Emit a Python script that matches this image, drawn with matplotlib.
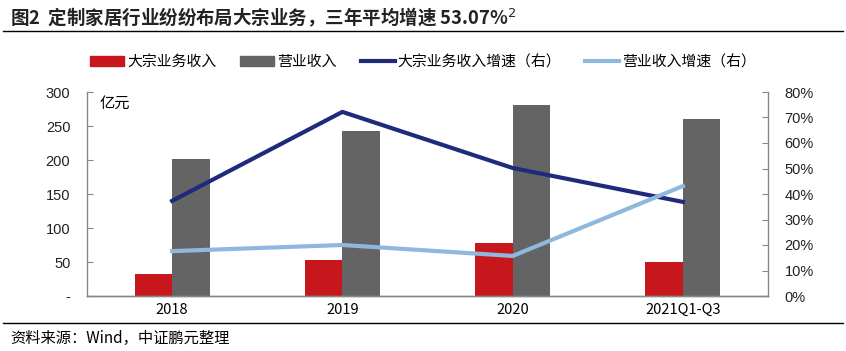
import matplotlib
matplotlib.use("Agg")
import matplotlib.pyplot as plt
import numpy as np
from matplotlib.lines import Line2D
from matplotlib.patches import Patch

plt.rcParams['font.family'] = ['Liberation Sans', 'Noto Sans CJK SC', 'DejaVu Sans']

categories = ["2018", "2019", "2020", "2021Q1-Q3"]
bulk_revenue = [32, 53, 78, 50]          # 亿元
total_revenue = [201, 243, 281, 260]     # 亿元
bulk_growth = [37.3, 72.2, 50.2, 36.9]   # %
total_growth = [17.6, 20.0, 15.7, 43.1]  # %

left_ticks = [0, 50, 100, 150, 200, 250, 300]
left_labels = ["-", "50", "100", "150", "200", "250", "300"]
right_ticks = [0, 10, 20, 30, 40, 50, 60, 70, 80]

red = "#C8161D"
gray = "#646464"
dblue = "#1F2A7C"
lblue = "#8FB8DE"

fig = plt.figure(figsize=(8.46, 3.51), dpi=100)
ax = fig.add_axes([87/846, 1-296/351, (768-87)/846, (296-92)/351])
ax2 = ax.twinx()

x = np.arange(len(categories))
w = 0.22
ax.bar(x - w/2, bulk_revenue, w, color=red, zorder=2)
ax.bar(x + w/2, total_revenue, w, color=gray, zorder=2)
ax.set_xlim(-0.5, len(categories) - 0.5)
ax.set_ylim(0, 300)
ax.set_yticks(left_ticks)
ax.set_yticklabels(left_labels)
ax.set_xticks(x)
ax.set_xticklabels(categories, family=['Noto Sans CJK SC'])

ax2.plot(x, bulk_growth, color=dblue, lw=3, zorder=3)
ax2.plot(x, total_growth, color=lblue, lw=3, zorder=3)
ax2.set_ylim(0, 80)
ax2.set_yticks(right_ticks)
ax2.set_yticklabels([f"{t}%" for t in right_ticks])

for a in (ax, ax2):
    a.spines['top'].set_visible(False)
    for s in ('left', 'right', 'bottom'):
        a.spines[s].set_color('#888888')
        a.spines[s].set_linewidth(1)
    a.tick_params(axis='y', direction='in', length=4, color='#888888',
                  labelsize=10.5, pad=12, labelcolor='#222222')
ax.tick_params(axis='x', length=0, labelsize=10.5, pad=5)
ax2.spines['left'].set_visible(False)
ax.spines['right'].set_visible(False)

ax.text(0.018, 0.985, "亿元", transform=ax.transAxes, family=['Noto Sans CJK SC'],
        fontsize=11, va='top', ha='left')

# legend
handles = [Patch(color=red), Patch(color=gray),
           Line2D([], [], color=dblue, lw=3), Line2D([], [], color=lblue, lw=3)]
labels = ["大宗业务收入", "营业收入", "大宗业务收入增速（右）", "营业收入增速（右）"]
fig.legend(handles, labels, loc='center', bbox_to_anchor=(0.5, 1-62/351), ncol=4,
           frameon=False, prop={'family': 'Noto Sans CJK SC', 'size': 10.7},
           handlelength=2.3, handleheight=0.6, columnspacing=1.6, handletextpad=0.2)

# title
fig.text(10/846, 1-17/351, "图2  定制家居行业纷纷布局大宗业务，三年平均增速 53.07%$^{2}$",
         family=['Noto Sans CJK SC'], fontweight='bold', fontsize=13.3,
         va='center', ha='left', color='#222222')
fig.add_artist(Line2D([3/846, 843/846], [1-31/351, 1-31/351], color='black', lw=1))
fig.add_artist(Line2D([3/846, 843/846], [1-323/351, 1-323/351], color='black', lw=1))
fig.text(10/846, 1-338/351, "资料来源：Wind，中证鹏元整理", family=['Noto Sans CJK SC'],
         fontsize=11, va='center', ha='left')

fig.savefig("out.png", dpi=100)
